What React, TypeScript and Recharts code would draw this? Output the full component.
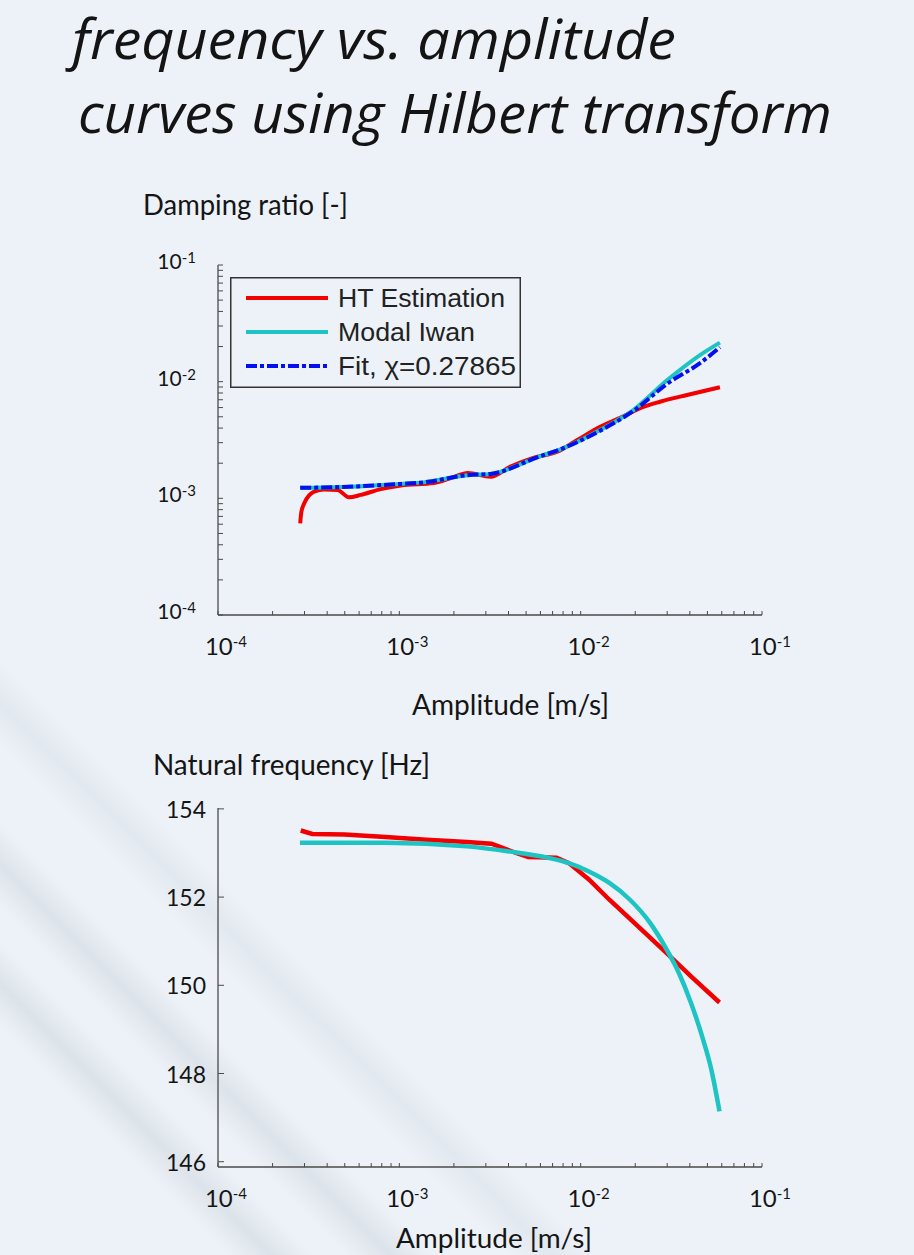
import React from "react";
import { LineChart, Line, XAxis, YAxis, Legend } from "recharts";

// ---- data ----
const titleLines = ["frequency vs. amplitude", "curves using Hilbert transform"];
const dampTitle = "Damping ratio [-]";
const freqTitle = "Natural frequency [Hz]";
const ampTitle = "Amplitude [m/s]";

const decades = [1e-4, 1e-3, 1e-2, 1e-1];
const freqTicks = [146, 148, 150, 152, 154];
const seriesNames = ["HT Estimation", "Modal Iwan", "Fit, χ=0.27865"];

// damping ratio vs amplitude
const htDampAmp = [2.84e-4, 2.88e-4, 2.99e-4, 3.39e-4, 3.85e-4, 4.56e-4, 5.28e-4, 6.13e-4, 7.89e-4, 1.02e-3, 1.55e-3, 1.99e-3, 2.38e-3, 3.18e-3, 4.1e-3, 5.48e-3, 7.43e-3, 9.57e-3, 1.28e-2, 1.65e-2, 2.13e-2, 2.74e-2, 3.86e-2, 5.86e-2];
const htDampVal = [6.1e-4, 7.6e-4, 9.06e-4, 1.14e-3, 1.19e-3, 1.18e-3, 1.02e-3, 1.07e-3, 1.2e-3, 1.29e-3, 1.35e-3, 1.52e-3, 1.65e-3, 1.53e-3, 1.87e-3, 2.22e-3, 2.51e-3, 3.16e-3, 4.11e-3, 4.89e-3, 5.94e-3, 6.73e-3, 7.69e-3, 8.95e-3];

const iwanDampAmp = [2.84e-4, 4.75e-4, 1.02e-3, 1.36e-3, 2.38e-3, 3.18e-3, 6.0e-3, 7.73e-3, 1.28e-2, 1.95e-2, 3.0e-2, 4.55e-2, 5.86e-2];
const iwanDampVal = [1.23e-3, 1.25e-3, 1.33e-3, 1.37e-3, 1.58e-3, 1.62e-3, 2.3e-3, 2.63e-3, 3.85e-3, 5.71e-3, 1.03e-2, 1.69e-2, 2.16e-2];
const fitDampVal = [1.23e-3, 1.25e-3, 1.33e-3, 1.37e-3, 1.58e-3, 1.62e-3, 2.3e-3, 2.63e-3, 3.8e-3, 5.6e-3, 9.6e-3, 1.44e-2, 1.97e-2];

// natural frequency vs amplitude
const htFreqAmp = [2.86e-4, 3.31e-4, 5.0e-4, 8.4e-4, 1.41e-3, 2.36e-3, 3.22e-3, 4.4e-3, 5.14e-3, 7.36e-3, 8.61e-3, 1.11e-2, 1.44e-2, 2.08e-2, 2.98e-2, 4.06e-2, 5.83e-2];
const htFreqVal = [153.51, 153.43, 153.42, 153.36, 153.3, 153.25, 153.21, 153.0, 152.91, 152.89, 152.77, 152.4, 151.94, 151.33, 150.73, 150.2, 149.61];

const iwanFreqAmp = [2.83e-4, 8.4e-4, 2.36e-3, 3.95e-3, 6.64e-3, 8.61e-3, 1.11e-2, 1.44e-2, 1.87e-2, 2.42e-2, 2.98e-2, 3.48e-2, 4.06e-2, 4.74e-2, 5.26e-2, 5.83e-2];
const iwanFreqVal = [153.23, 153.23, 153.15, 153.04, 152.89, 152.77, 152.58, 152.32, 151.94, 151.41, 150.81, 150.28, 149.6, 148.76, 148.08, 147.14];

const RED = "#f20000";
const CYAN = "#1ec3c3";
const BLUE = "#0010f0";
const AXIS = "#4a4a4a";
const INK = "#151515";
const FIT_DASH = "11 3 4 3";
const TICK_FONT = "Lato, 'Open Sans', sans-serif";

const pairs = (xs: number[], ys: number[]) => xs.map((amp, i) => ({ amp, val: ys[i] }));

// minor ticks of a log axis: 1..9 x each decade
const logTicks = decades.flatMap((d, i) =>
  i === decades.length - 1 ? [d] : [1, 2, 3, 4, 5, 6, 7, 8, 9].map((k) => k * d)
);
const isDecade = (v: number) => {
  const lg = Math.log10(v);
  return Math.abs(lg - Math.round(lg)) < 1e-6;
};

function LogXTick({ x, y, payload }: any) {
  const v = payload.value;
  return (
    <g>
      <line x1={x} x2={x} y1={y} y2={y - 4} stroke={AXIS} strokeWidth={1} />
      {isDecade(v) && (
        <text x={x + 8} y={y + 40} textAnchor="middle" fill={INK} fontFamily={TICK_FONT}>
          <tspan fontSize={24}>10</tspan>
          <tspan fontSize={15} dy={-8}>{Math.round(Math.log10(v))}</tspan>
        </text>
      )}
    </g>
  );
}

function LogYTick({ x, y, payload }: any) {
  const v = payload.value;
  return (
    <g>
      <line x1={x} x2={x + 5} y1={y} y2={y} stroke={AXIS} strokeWidth={1} />
      {isDecade(v) && (
        <text x={x - 22} y={y + 4} textAnchor="end" fill={INK} fontFamily={TICK_FONT}>
          <tspan fontSize={21}>10</tspan>
          <tspan fontSize={15} dy={-6}>{Math.round(Math.log10(v))}</tspan>
        </text>
      )}
    </g>
  );
}

function FreqYTick({ x, y, payload }: any) {
  return (
    <g>
      <line x1={x} x2={x + 6} y1={y} y2={y} stroke={AXIS} strokeWidth={1} />
      <text x={x - 12} y={y + 9} textAnchor="end" fill={INK} fontFamily={TICK_FONT} fontSize={23}>
        {payload.value}
      </text>
    </g>
  );
}

const legendStyle: Record<string, { dash?: string; width: number }> = {
  "HT Estimation": { width: 167 },
  "Modal Iwan": { width: 137 },
  "Fit, χ=0.27865": { dash: FIT_DASH, width: 178 },
};

function DampLegend({ payload }: any) {
  const items = [...(payload || [])].sort(
    (a: any, b: any) => seriesNames.indexOf(a.value) - seriesNames.indexOf(b.value)
  );
  return (
    <svg width={291} height={111} style={{ display: "block" }}>
      <rect x={0.75} y={0.75} width={289.5} height={109.5} fill="none" stroke="#333" strokeWidth={1.5} />
      {items.map((entry: any, i: number) => {
        const cy = 21 + i * 34;
        const st = legendStyle[entry.value] || { width: 150 };
        return (
          <g key={entry.value}>
            <line x1={16} x2={98} y1={cy} y2={cy} stroke={entry.color} strokeWidth={4} strokeDasharray={st.dash} />
            <text x={108} y={cy + 9} fontSize={25} fill="#222" fontFamily="'Liberation Sans', Arial, sans-serif"
              textLength={st.width} lengthAdjust="spacingAndGlyphs">
              {entry.value}
            </text>
          </g>
        );
      })}
    </svg>
  );
}

const xAxisProps = {
  dataKey: "amp",
  type: "number" as const,
  scale: "log" as const,
  domain: [1e-4, 1e-1],
  allowDataOverflow: true,
  ticks: logTicks,
  interval: 0 as const,
  height: 40,
  tickSize: 0,
  tickMargin: 0,
  tickLine: false,
  axisLine: { stroke: AXIS, strokeWidth: 1.3 },
  tick: (p: any) => <LogXTick {...p} />,
};

export default function App() {
  const base = "#edf2f8";
  const band = "#dde3ea";
  const bg = `linear-gradient(45deg, ${base} 0%, ${base} 10.5%, ${band} 12.5%, ${base} 14.5%, ${base} 16%, ${band} 18%, ${base} 20%, ${base} 23.5%, #e2e8ef 25.5%, ${base} 27.5%, ${base} 100%)`;
  return (
    <div style={{ position: "absolute", left: 0, top: 0, width: 914, height: 1255, overflow: "hidden", background: bg }}>
      <svg width={914} height={1255} style={{ position: "absolute", left: 0, top: 0 }}>
        <g fill="#141414" fontFamily="'Open Sans', sans-serif" fontStyle="italic" fontSize={55}>
          <text x={72} y={59} textLength={604} lengthAdjust="spacingAndGlyphs">{titleLines[0]}</text>
          <text x={78} y={133} textLength={754} lengthAdjust="spacingAndGlyphs">{titleLines[1]}</text>
        </g>
        <g fill={INK} fontFamily={TICK_FONT} fontSize={28}>
          <text x={143} y={215} textLength={205} lengthAdjust="spacingAndGlyphs">{dampTitle}</text>
          <text x={412} y={715} textLength={197} lengthAdjust="spacingAndGlyphs">{ampTitle}</text>
          <text x={153} y={775} textLength={277} lengthAdjust="spacingAndGlyphs">{freqTitle}</text>
        </g>
        <text x={396} y={1248} fontSize={26} fill={INK} fontFamily={TICK_FONT} textLength={196}
          lengthAdjust="spacingAndGlyphs">{ampTitle}</text>
      </svg>

      {/* damping ratio */}
      <div style={{ position: "absolute", left: 0, top: 240 }}>
        <LineChart width={914} height={440} margin={{ top: 25, right: 152, bottom: 25, left: 138 }}>
          <XAxis {...xAxisProps} />
          <YAxis
            type="number"
            scale="log"
            domain={[1e-4, 1e-1]}
            allowDataOverflow
            ticks={logTicks}
            interval={0}
            width={80}
            tickSize={0}
            tickMargin={0}
            tickLine={false}
            axisLine={{ stroke: AXIS, strokeWidth: 1.3 }}
            tick={(p: any) => <LogYTick {...p} />}
          />
          <Legend
            layout="vertical"
            align="center"
            verticalAlign="middle"
            wrapperStyle={{ left: 230, top: 37, width: 291, height: 111 }}
            content={(props: any) => <DampLegend payload={props.payload} />}
          />
          <Line data={pairs(htDampAmp, htDampVal)} dataKey="val" name={seriesNames[0]} stroke={RED}
            strokeWidth={4} dot={false} type="monotone" isAnimationActive={false} />
          <Line data={pairs(iwanDampAmp, iwanDampVal)} dataKey="val" name={seriesNames[1]} stroke={CYAN}
            strokeWidth={4} dot={false} type="monotone" isAnimationActive={false} />
          <Line data={pairs(iwanDampAmp, fitDampVal)} dataKey="val" name={seriesNames[2]} stroke={BLUE}
            strokeWidth={4} strokeDasharray={FIT_DASH} dot={false} type="monotone" isAnimationActive={false} />
        </LineChart>
      </div>

      {/* natural frequency */}
      <div style={{ position: "absolute", left: 0, top: 790 }}>
        <LineChart width={914} height={460} margin={{ top: 18, right: 152, bottom: 43, left: 138 }}>
          <XAxis {...xAxisProps} />
          <YAxis
            type="number"
            domain={[145.88, 154.02]}
            allowDataOverflow
            ticks={freqTicks}
            interval={0}
            width={80}
            tickSize={0}
            tickMargin={0}
            tickLine={false}
            axisLine={{ stroke: AXIS, strokeWidth: 1.3 }}
            tick={(p: any) => <FreqYTick {...p} />}
          />
          <Line data={pairs(htFreqAmp, htFreqVal)} dataKey="val" name={seriesNames[0]} stroke={RED}
            strokeWidth={4.5} dot={false} type="linear" isAnimationActive={false} />
          <Line data={pairs(iwanFreqAmp, iwanFreqVal)} dataKey="val" name={seriesNames[1]} stroke={CYAN}
            strokeWidth={4.5} dot={false} type="monotone" isAnimationActive={false} />
        </LineChart>
      </div>
    </div>
  );
}
